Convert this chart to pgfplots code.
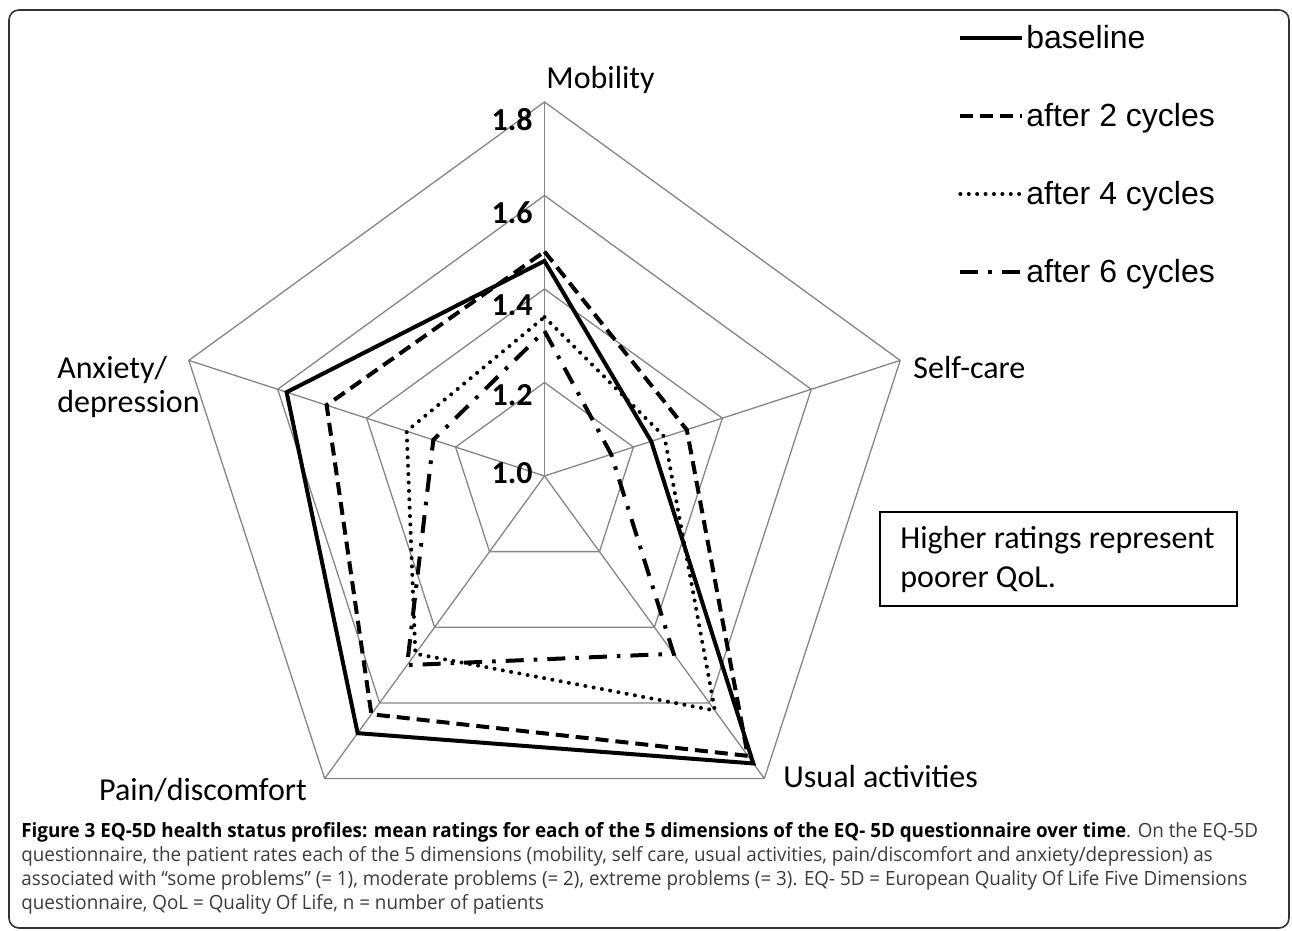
\documentclass[border=0pt]{standalone}
\usepackage{fontspec}
\setmainfont{Carlito}
\newfontfamily\arialf{Liberation Sans}
\newfontfamily\capf[FakeStretch=0.96]{Open Sans}
\usepackage{pgfplots}
\usepackage{pgfplotstable}
\pgfplotsset{compat=1.18}

% angle (deg), mean rating
\pgfplotstableread{
a r
90 1.46
18 1.24
-54 1.76
-126 1.68
162 1.58
}\tblBase
\pgfplotstableread{
a r
90 1.48
18 1.32
-54 1.74
-126 1.63
162 1.49
}\tblTwo
\pgfplotstableread{
a r
90 1.34
18 1.27
-54 1.62
-126 1.47
162 1.31
}\tblFour
\pgfplotstableread{
a r
90 1.31
18 1.15
-54 1.47
-126 1.50
162 1.25
}\tblSix
% grid rings (rating levels)
\pgfplotstableread{
a l2 l4 l6 l8
90 1.2 1.4 1.6 1.8
18 1.2 1.4 1.6 1.8
-54 1.2 1.4 1.6 1.8
-126 1.2 1.4 1.6 1.8
162 1.2 1.4 1.6 1.8
}\tblRing

\definecolor{gridc}{RGB}{134,134,134}
\definecolor{capgray}{RGB}{60,60,60}

\begin{document}
\begin{tikzpicture}
\begin{scope}[x=0.5pt,y=0.5pt]
\useasboundingbox (0,0) rectangle (1292,931);
\draw[black!80, line width=0.8pt, rounded corners=5pt] (9,921) rectangle (1289,3);
\end{scope}

\begin{axis}[
  at={(272.25pt,227.5pt)}, anchor=origin,
  x=233.75pt, y=233.75pt,
  xmin=-1, xmax=1, ymin=-1, ymax=1,
  hide axis, clip=false,
  legend cell align=left,
  legend image code/.code={\draw[#1] (0pt,1.2pt) -- (31pt,1.2pt);},
  legend style={at={(axis description cs:0.9422,0.9834)}, anchor=north west,
    draw=none, fill=none, inner sep=0pt, row sep=23pt, column sep=1pt,
    font=\arialf\fontsize{16}{19}\selectfont,
    nodes={inner sep=0pt, text height=12pt, text depth=4pt}},
]
% grid rings
\addplot[gridc, line width=0.65pt, forget plot] table[x expr={(\thisrow{l2}-1)*cos(\thisrow{a})}, y expr={(\thisrow{l2}-1)*sin(\thisrow{a})}] {\tblRing} -- cycle;
\addplot[gridc, line width=0.65pt, forget plot] table[x expr={(\thisrow{l4}-1)*cos(\thisrow{a})}, y expr={(\thisrow{l4}-1)*sin(\thisrow{a})}] {\tblRing} -- cycle;
\addplot[gridc, line width=0.65pt, forget plot] table[x expr={(\thisrow{l6}-1)*cos(\thisrow{a})}, y expr={(\thisrow{l6}-1)*sin(\thisrow{a})}] {\tblRing} -- cycle;
\addplot[gridc, line width=0.65pt, forget plot] table[x expr={(\thisrow{l8}-1)*cos(\thisrow{a})}, y expr={(\thisrow{l8}-1)*sin(\thisrow{a})}] {\tblRing} -- cycle;
% spokes
\addplot[gridc, line width=0.65pt, forget plot] coordinates {(0,0) (0,0.8)};
\addplot[gridc, line width=0.65pt, forget plot] coordinates {(0,0) (0.7608,0.2472)};
\addplot[gridc, line width=0.65pt, forget plot] coordinates {(0,0) (0.4702,-0.6472)};
\addplot[gridc, line width=0.65pt, forget plot] coordinates {(0,0) (-0.4702,-0.6472)};
\addplot[gridc, line width=0.65pt, forget plot] coordinates {(0,0) (-0.7608,0.2472)};

\addplot[black, line width=2pt] table[x expr={(\thisrow{r}-1)*cos(\thisrow{a})}, y expr={(\thisrow{r}-1)*sin(\thisrow{a})}] {\tblBase} -- cycle;
\addlegendentry{baseline}
\addplot[black, line width=2pt, dash pattern=on 6.5pt off 3.5pt] table[x expr={(\thisrow{r}-1)*cos(\thisrow{a})}, y expr={(\thisrow{r}-1)*sin(\thisrow{a})}] {\tblTwo} -- cycle;
\addlegendentry{after 2 cycles}
\addplot[black, line width=2pt, line cap=round, dash pattern=on 0pt off 4.2pt] table[x expr={(\thisrow{r}-1)*cos(\thisrow{a})}, y expr={(\thisrow{r}-1)*sin(\thisrow{a})}] {\tblFour} -- cycle;
\addlegendentry{after 4 cycles}
\addplot[black, line width=2pt, dash pattern=on 9pt off 5pt on 1.8pt off 5pt] table[x expr={(\thisrow{r}-1)*cos(\thisrow{a})}, y expr={(\thisrow{r}-1)*sin(\thisrow{a})}] {\tblSix} -- cycle;
\addlegendentry{after 6 cycles}
\end{axis}

\begin{scope}[x=0.5pt,y=0.5pt]
\tikzset{lab/.style={inner sep=0pt, font=\fontsize{16}{19}\selectfont}}
\tikzset{tk/.style={inner sep=0pt, font=\bfseries\fontsize{16}{19}\selectfont, anchor=east}}
\node[tk] at (533,811) {1.8};
\node[tk] at (533,718) {1.6};
\node[tk] at (533,626) {1.4};
\node[tk] at (533,536) {1.2};
\node[tk] at (533,458) {1.0};
\node[lab, anchor=west] at (546,851) {Mobility};
\node[lab, anchor=west] at (913,563) {Self-care};
\node[lab, anchor=west] at (783,154) {Usual activities};
\node[lab] at (203,141) {Pain/discomfort};
\node[lab, anchor=west] at (57,561) {Anxiety/};
\node[lab, anchor=west] at (57,527) {depression};
\draw[black, line width=0.7pt] (880,419) rectangle (1237,325);
\node[lab, anchor=west] at (900,391) {Higher ratings represent};
\node[lab, anchor=west] at (900,351) {poorer QoL.};
\tikzset{captxt/.style={inner sep=0pt, anchor=base west, text=capgray, font=\capf\fontsize{9.8}{12}\selectfont}}
\node[captxt] at (21,93) {\textbf{\color{black}Figure 3 EQ-5D health status profiles: mean ratings for each of the 5 dimensions of the EQ- 5D questionnaire over time}. On the EQ-5D};
\node[captxt] at (21,69) {questionnaire, the patient rates each of the 5 dimensions (mobility, self care, usual activities, pain/discomfort and anxiety/depression) as};
\node[captxt] at (21,45) {associated with “some problems” (= 1), moderate problems (= 2), extreme problems (= 3). EQ- 5D = European Quality Of Life Five Dimensions};
\node[captxt] at (21,21) {questionnaire, QoL = Quality Of Life, n = number of patients};
\end{scope}
\end{tikzpicture}
\end{document}
